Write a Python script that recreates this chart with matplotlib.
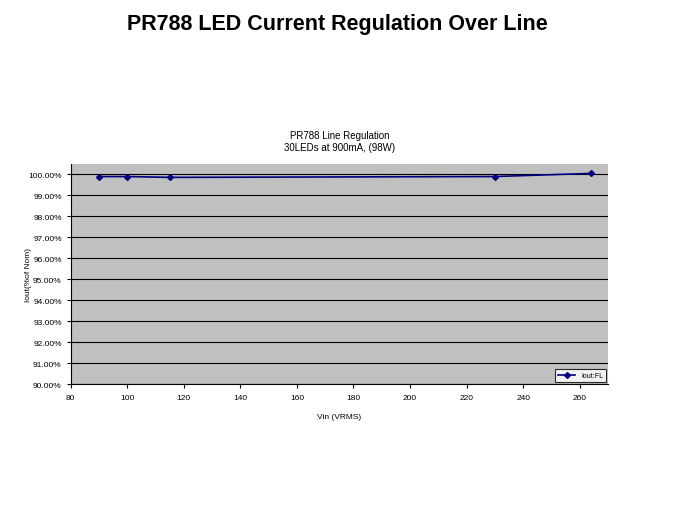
import matplotlib
matplotlib.use("Agg")
import matplotlib.pyplot as plt
from matplotlib.ticker import PercentFormatter

# data
vin = [90, 100, 115, 230, 264]
iout = [99.90, 99.90, 99.86, 99.90, 100.05]
yticks = [90, 91, 92, 93, 94, 95, 96, 97, 98, 99, 100]
xticks = [80, 100, 120, 140, 160, 180, 200, 220, 240, 260]

plt.rcParams['font.family'] = ['Liberation Sans', 'DejaVu Sans']

fig = plt.figure(figsize=(6.74, 5.06), dpi=100)
fig.text(0.5, 0.952, "PR788 LED Current Regulation Over Line", ha='center', va='center',
         fontsize=15.5, fontweight='bold')

ax = fig.add_axes([0.105, 0.239, 0.797, 0.435])
ax.set_facecolor('#C0C0C0')
ax.plot(vin, iout, color='#000080', marker='D', markersize=3, linewidth=1.2, label='Iout:FL')

ax.set_xlim(80, 270)
ax.set_ylim(90, 100.5)
ax.set_xticks(xticks)
ax.set_yticks(yticks)
ax.yaxis.set_major_formatter(PercentFormatter(decimals=2))
ax.grid(axis='y', color='black', linewidth=0.8)
ax.set_axisbelow(True)
for s in ['top', 'right']:
    ax.spines[s].set_visible(False)
ax.tick_params(labelsize=6, length=3, width=0.8, colors='black')
ax.tick_params(axis='x', pad=4)

ax.set_title("PR788 Line Regulation\n30LEDs at 900mA, (98W)", fontsize=7, pad=10)
ax.set_xlabel("Vin (VRMS)", fontsize=6, labelpad=9)
ax.set_ylabel("Iout(%of Nom)", fontsize=6, labelpad=-3)

leg = ax.legend(loc='lower right', fontsize=5, frameon=True, fancybox=False,
                edgecolor='black', handlelength=2.5, borderaxespad=0.3)
leg.get_frame().set_facecolor('white')
leg.get_frame().set_linewidth(0.8)

fig.savefig("out.png", dpi=100)
